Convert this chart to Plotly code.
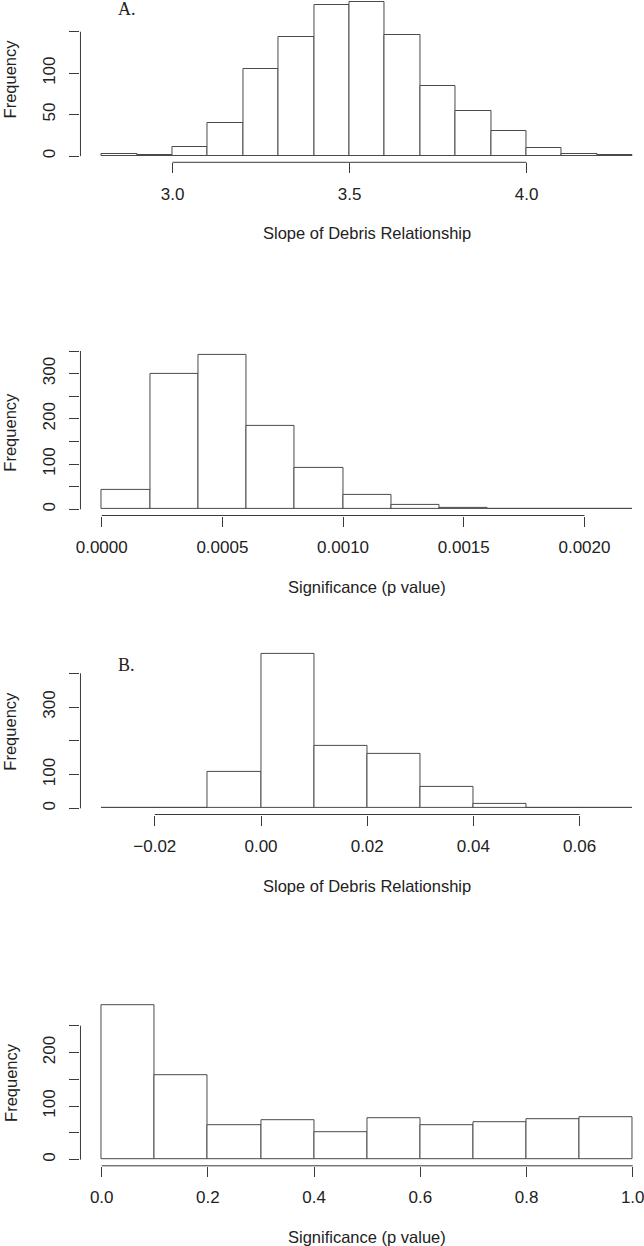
import plotly.graph_objects as go

# ---------------- data ----------------
# Panel A, slope of debris relationship
a_slope_start = 2.8
a_slope_width = 0.1
a_slope_counts = [2, 1, 11, 40, 105, 144, 182, 186, 146, 84, 54, 30, 10, 3, 1]
a_slope_xticks = [3.0, 3.5, 4.0]
a_slope_xlabels = ["3.0", "3.5", "4.0"]
a_slope_yticks = [0, 50, 100, 150]
a_slope_ylabels = ["0", "50", "100", ""]

# Panel A, significance (p value)
a_p_start = 0.0
a_p_width = 0.0002
a_p_counts = [42, 299, 341, 184, 92, 32, 10, 4, 1, 1, 2]
a_p_xticks = [0.0, 0.0005, 0.0010, 0.0015, 0.0020]
a_p_xlabels = ["0.0000", "0.0005", "0.0010", "0.0015", "0.0020"]
a_p_yticks = [0, 50, 100, 150, 200, 250, 300, 350]
a_p_ylabels = ["0", "", "100", "", "200", "", "300", ""]

# Panel B, slope of debris relationship
b_slope_start = -0.03
b_slope_width = 0.01
b_slope_counts = [1, 1, 108, 457, 184, 160, 64, 14, 2, 1]
b_slope_xticks = [-0.02, 0.0, 0.02, 0.04, 0.06]
b_slope_xlabels = ["\u22120.02", "0.00", "0.02", "0.04", "0.06"]
b_slope_yticks = [0, 100, 200, 300, 400]
b_slope_ylabels = ["0", "100", "", "300", ""]

# Panel B, significance (p value)
b_p_start = 0.0
b_p_width = 0.1
b_p_counts = [288, 158, 65, 73, 51, 77, 64, 69, 75, 80]
b_p_xticks = [0.0, 0.2, 0.4, 0.6, 0.8, 1.0]
b_p_xlabels = ["0.0", "0.2", "0.4", "0.6", "0.8", "1.0"]
b_p_yticks = [0, 50, 100, 150, 200, 250]
b_p_ylabels = ["0", "", "100", "", "200", ""]

x_titles = ["Slope of Debris Relationship", "Significance (p value)",
            "Slope of Debris Relationship", "Significance (p value)"]
y_title = "Frequency"
panel_letters = {0: "A.", 2: "B."}

panels = [
    dict(start=a_slope_start, width=a_slope_width, counts=a_slope_counts,
         xt=a_slope_xticks, xl=a_slope_xlabels, yt=a_slope_yticks, yl=a_slope_ylabels),
    dict(start=a_p_start, width=a_p_width, counts=a_p_counts,
         xt=a_p_xticks, xl=a_p_xlabels, yt=a_p_yticks, yl=a_p_ylabels),
    dict(start=b_slope_start, width=b_slope_width, counts=b_slope_counts,
         xt=b_slope_xticks, xl=b_slope_xlabels, yt=b_slope_yticks, yl=b_slope_ylabels),
    dict(start=b_p_start, width=b_p_width, counts=b_p_counts,
         xt=b_p_xticks, xl=b_p_xlabels, yt=b_p_yticks, yl=b_p_ylabels),
]

# ---------------- layout geometry (pixels) ----------------
W, H = 644, 1246
PLOT_LEFT = 76.3
PLOT_RIGHT = 656.1      # plot region extends past the (cropped) canvas
PLOT_H = 166.6
bottoms = [162.3, 515.5, 814.5, 1165.8]
letter_pos = {0: (123, 9), 2: (123, 665)}

FONT = "Liberation Sans, Arial, Helvetica, sans-serif"
AX_COL = "#3a3a3a"
TXT_COL = "#222222"
BAR_LINE = "#4a4a4a"
TICK_SIZE = 17
TITLE_SIZE = 16.5

fig = go.Figure()
layout = dict(
    width=W, height=H,
    margin=dict(l=0, r=0, t=0, b=0),
    paper_bgcolor="white", plot_bgcolor="white",
    showlegend=False,
    bargap=0,
    font=dict(family=FONT, size=16, color=TXT_COL),
)
shapes = []
annotations = []

for i, p in enumerate(panels):
    n = len(p["counts"])
    lo = p["start"]
    hi = p["start"] + n * p["width"]
    centers = [p["start"] + (k + 0.5) * p["width"] for k in range(n)]
    span = hi - lo
    ulo, uhi = lo - 0.04 * span, hi + 0.04 * span
    sx = (PLOT_RIGHT - PLOT_LEFT) / (uhi - ulo)
    x_hi = ulo + (W - PLOT_LEFT) / sx

    ymax = max(p["counts"])
    ylo, yhi = -0.04 * ymax, 1.04 * ymax
    sy = PLOT_H / (yhi - ylo)
    bottom = bottoms[i]
    top = bottom - PLOT_H
    if top < 0:
        yhi = ylo + bottom / sy
        top = 0.0

    sfx = "" if i == 0 else str(i + 1)
    xa, ya = "x" + sfx, "y" + sfx

    fig.add_trace(go.Bar(
        x=centers, y=p["counts"], width=[p["width"]] * n,
        marker=dict(color="white", line=dict(color=BAR_LINE, width=1)),
        xaxis=xa, yaxis=ya, hoverinfo="x+y",
    ))

    layout["xaxis" + sfx] = dict(
        domain=[PLOT_LEFT / W, 1.0], range=[ulo, x_hi], anchor=ya,
        showgrid=False, zeroline=False, showline=False,
        tickmode="array", tickvals=p["xt"], ticktext=p["xl"],
        ticks="outside", ticklen=10, tickwidth=1, tickcolor=AX_COL,
        ticklabelstandoff=6, ticklabeloverflow="allow",
        tickfont=dict(family=FONT, size=TICK_SIZE, color=TXT_COL),
    )
    layout["yaxis" + sfx] = dict(
        domain=[1 - bottom / H, 1 - top / H], range=[ylo, yhi], anchor=xa,
        showgrid=False, zeroline=False, showline=False,
        tickmode="array", tickvals=p["yt"], ticktext=p["yl"],
        ticks="outside", ticklen=10, tickwidth=1, tickcolor=AX_COL,
        tickangle=-90, ticklabelstandoff=8, ticklabeloverflow="allow",
        tickfont=dict(family=FONT, size=TICK_SIZE, color=TXT_COL),
    )

    # R-style axis lines spanning first to last tick
    shapes.append(dict(type="line", xref=xa, yref=ya + " domain",
                       x0=p["xt"][0], x1=p["xt"][-1], y0=0, y1=0,
                       line=dict(color=AX_COL, width=1)))
    shapes.append(dict(type="line", xref=xa + " domain", yref=ya,
                       x0=0, x1=0, y0=p["yt"][0], y1=p["yt"][-1],
                       line=dict(color=AX_COL, width=1)))

    # axis titles
    annotations.append(dict(
        text=x_titles[i], xref="paper", yref="paper",
        x=(PLOT_LEFT + PLOT_RIGHT) / 2 / W, y=1 - (bottom + 71) / H,
        xanchor="center", yanchor="middle", showarrow=False,
        font=dict(family=FONT, size=TITLE_SIZE, color=TXT_COL)))
    annotations.append(dict(
        text=y_title, xref="paper", yref="paper",
        x=5.5 / W, y=1 - (bottom - PLOT_H / 2) / H, textangle=-90,
        xanchor="center", yanchor="middle", showarrow=False,
        font=dict(family=FONT, size=TITLE_SIZE, color=TXT_COL)))

    if i in panel_letters:
        lx, ly = letter_pos[i]
        annotations.append(dict(
            text=panel_letters[i], xref="paper", yref="paper",
            x=lx / W, y=1 - ly / H, xanchor="center", yanchor="middle",
            showarrow=False,
            font=dict(family="Liberation Serif, Times New Roman, serif",
                      size=18, color=TXT_COL)))

layout["shapes"] = shapes
layout["annotations"] = annotations
fig.update_layout(**layout)

fig.write_html(
    "out.html",
    config={"displayModeBar": False},
    post_script="document.body.style.margin='0';document.body.style.overflow='hidden';",
)
